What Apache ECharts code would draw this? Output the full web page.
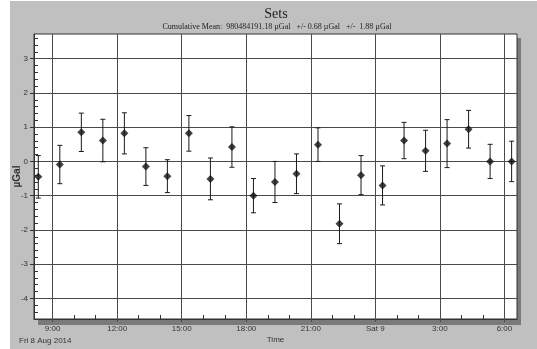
<!DOCTYPE html>
<html>
<head>
<meta charset="utf-8">
<script src="https://cdn.jsdelivr.net/npm/echarts@6/dist/echarts.min.js"></script>
<style>
  html, body { margin: 0; padding: 0; background: #ffffff; }
  #bg { position: absolute; left: 10px; top: 1px; width: 527px; height: 348px; background: #c0c0c0; }
  #shadow { position: absolute; left: 38px; top: 38px; width: 483px; height: 287px; background: #7a7a7a; }
  #chart { position: absolute; left: 0; top: 0; width: 537px; height: 349px; }
</style>
</head>
<body>
<div id="bg"></div>
<div id="shadow"></div>
<div id="chart"></div>
<script>
// ---- data ----
const times = [
  '2014-08-08 08:20','2014-08-08 09:20','2014-08-08 10:20','2014-08-08 11:20',
  '2014-08-08 12:20','2014-08-08 13:20','2014-08-08 14:20','2014-08-08 15:20',
  '2014-08-08 16:20','2014-08-08 17:20','2014-08-08 18:20','2014-08-08 19:20',
  '2014-08-08 20:20','2014-08-08 21:20','2014-08-08 22:20','2014-08-08 23:20',
  '2014-08-09 00:20','2014-08-09 01:20','2014-08-09 02:20','2014-08-09 03:20',
  '2014-08-09 04:20','2014-08-09 05:20','2014-08-09 06:20'
];
const means = [-0.45, -0.09, 0.85, 0.61, 0.82, -0.15, -0.43, 0.82, -0.51, 0.42, -1.00, -0.60,
               -0.36, 0.49, -1.82, -0.40, -0.70, 0.61, 0.31, 0.52, 0.94, 0.00, 0.00];
const errs  = [0.62, 0.56, 0.56, 0.62, 0.60, 0.55, 0.48, 0.52, 0.61, 0.59, 0.50, 0.60,
               0.58, 0.49, 0.58, 0.57, 0.57, 0.53, 0.60, 0.70, 0.55, 0.50, 0.59];
const xTickTimes  = ['2014-08-08 09:00','2014-08-08 12:00','2014-08-08 15:00','2014-08-08 18:00',
                     '2014-08-08 21:00','2014-08-09 00:00','2014-08-09 03:00','2014-08-09 06:00'];
const xTickLabels = ['9:00','12:00','15:00','18:00','21:00','Sat 9','3:00','6:00'];
const yTicks = [-4, -3, -2, -1, 0, 1, 2, 3];
const xMin = '2014-08-08 08:08';
const xMax = '2014-08-09 06:35';
const yMin = -4.6, yMax = 3.72;
const titleText = 'Sets';
const subText = 'Cumulative Mean:  980484191.18 \u00b5Gal   +/- 0.68 \u00b5Gal   +/-  1.88 \u00b5Gal';
const dateText = 'Fri 8 Aug 2014';

// ---- helpers ----
const ms = s => new Date(s.replace(' ', 'T')).getTime();
const xTickMs = xTickTimes.map(ms);
const HOUR = 3600000;
const xMinorMs = [];
for (let t = ms('2014-08-08 09:00'); t <= ms(xMax); t += HOUR) {
  if (xTickMs.indexOf(t) < 0) xMinorMs.push(t);
}
const yMinor = [];
for (let i = -23; i <= 18; i++) {
  const v = Math.round(i * 2) / 10;
  if (v >= yMin && v <= yMax && yTicks.indexOf(v) < 0) yMinor.push(v);
}

const pts = times.map((t, i) => [ms(t), means[i]]);
const bars = times.map((t, i) => [ms(t), means[i] - errs[i], means[i] + errs[i]]);

const chart = echarts.init(document.getElementById('chart'), null, { renderer: 'canvas' });
const lblFont = { fontFamily: 'Liberation Sans, Arial, sans-serif', fontSize: 8, color: '#333' };
const gridColor = '#4a4a4a';

chart.setOption({
  animation: false,
  backgroundColor: 'transparent',
  title: [
    { text: titleText, left: 271, top: 2, textAlign: 'center',
      textStyle: { fontFamily: 'Liberation Serif, Times New Roman, serif', fontSize: 14, fontWeight: 'normal', color: '#222' } },
    { text: subText, left: 272, top: 18, textAlign: 'center',
      textStyle: { fontFamily: 'Liberation Serif, Times New Roman, serif', fontSize: 8, fontWeight: 'normal', color: '#222' } }
  ],
  graphic: [
    { type: 'text', left: 19, top: 337, style: { text: dateText, font: '8px Liberation Sans, Arial, sans-serif', fill: '#333' } }
  ],
  grid: { left: 34, top: 34, right: 20, bottom: 28, show: true, backgroundColor: '#ffffff', borderColor: '#333', borderWidth: 1 },
  xAxis: [
    {
      type: 'value', min: ms(xMin), max: ms(xMax),
      name: 'Time', nameLocation: 'middle', nameGap: 17, nameMoveOverlap: false,
      nameTextStyle: { fontFamily: 'Liberation Sans, Arial, sans-serif', fontSize: 8, color: '#333' },
      axisLine: { show: true, onZero: false, lineStyle: { color: '#333', width: 1 } },
      axisTick: { show: true, customValues: xTickMs, length: 3, lineStyle: { color: gridColor } },
      axisLabel: Object.assign({ customValues: xTickMs, margin: 6,
        formatter: v => { const i = xTickMs.indexOf(v); return i >= 0 ? xTickLabels[i] : ''; } }, lblFont),
      splitLine: { show: true, lineStyle: { color: gridColor, width: 1 } }
    },
    {
      type: 'value', min: ms(xMin), max: ms(xMax), position: 'bottom',
      axisLine: { show: false, onZero: false },
      axisTick: { show: true, inside: true, length: 4, customValues: xMinorMs, lineStyle: { color: '#333' } },
      axisLabel: { show: false },
      splitLine: { show: false }
    }
  ],
  yAxis: [
    {
      type: 'value', min: yMin, max: yMax,
      name: '\u00b5Gal', nameLocation: 'middle', nameGap: 12, nameRotate: 90, nameMoveOverlap: false,
      nameTextStyle: { fontFamily: 'Liberation Sans, Arial, sans-serif', fontSize: 10, fontWeight: 'bold', color: '#333' },
      axisLine: { show: true, onZero: false, lineStyle: { color: '#333', width: 1 } },
      axisTick: { show: true, customValues: yTicks, length: 4, lineStyle: { color: '#333' } },
      axisLabel: Object.assign({ customValues: yTicks, margin: 6 }, lblFont),
      splitLine: { show: true, lineStyle: { color: gridColor, width: 1 } }
    },
    {
      type: 'value', min: yMin, max: yMax, position: 'left',
      axisLine: { show: false, onZero: false },
      axisTick: { show: true, inside: true, length: 4, customValues: yMinor, lineStyle: { color: '#333' } },
      axisLabel: { show: false },
      splitLine: { show: false }
    }
  ],
  series: [
    {
      type: 'custom',
      xAxisIndex: 0, yAxisIndex: 0,
      data: bars,
      encode: { x: 0, y: [1, 2] },
      renderItem: (params, api) => {
        const x = api.value(0);
        const lo = api.coord([x, api.value(1)]);
        const hi = api.coord([x, api.value(2)]);
        const cw = 2.5;
        const st = { stroke: '#1a1a1a', lineWidth: 1 };
        return {
          type: 'group',
          children: [
            { type: 'line', shape: { x1: lo[0], y1: lo[1], x2: hi[0], y2: hi[1] }, style: st },
            { type: 'line', shape: { x1: lo[0] - cw, y1: lo[1], x2: lo[0] + cw, y2: lo[1] }, style: st },
            { type: 'line', shape: { x1: hi[0] - cw, y1: hi[1], x2: hi[0] + cw, y2: hi[1] }, style: st }
          ]
        };
      },
      z: 2
    },
    {
      type: 'scatter',
      xAxisIndex: 0, yAxisIndex: 0,
      data: pts,
      symbol: 'diamond',
      symbolSize: 8,
      itemStyle: { color: '#111' },
      z: 3
    }
  ]
});
</script>
</body>
</html>
